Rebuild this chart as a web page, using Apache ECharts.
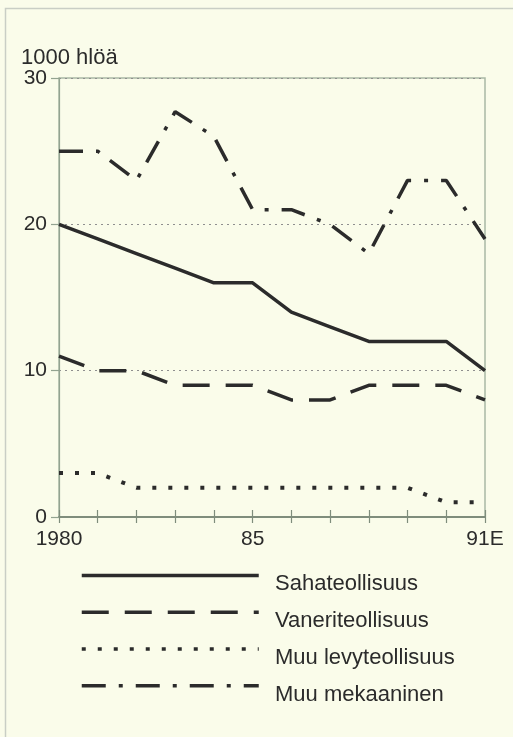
<!DOCTYPE html>
<html>
<head>
<meta charset="utf-8">
<script src="https://cdn.jsdelivr.net/npm/echarts@6/dist/echarts.min.js"></script>
<style>
  html, body { margin: 0; padding: 0; background: #fafcea; }
  #chart { width: 513px; height: 737px; }
</style>
</head>
<body>
<div id="chart"></div>
<script>
// vuodet ja akselin tekstit
var years = ['1980', '1981', '1982', '1983', '1984', '1985', '1986', '1987', '1988', '1989', '1990', '1991'];
var tickLabels = ['1980', '', '', '', '', '85', '', '', '', '', '', '91E'];
var yTicks = [0, 10, 20, 30];

// henkilöstö, 1000 hlöä
var names = ['Sahateollisuus', 'Vaneriteollisuus', 'Muu levyteollisuus', 'Muu mekaaninen'];
var saha = [20, 19, 18, 17, 16, 16, 14, 13, 12, 12, 12, 10];
var vaneri = [11, 10, 10, 9, 9, 9, 8, 8, 9, 9, 9, 8];
var levy = [3, 3, 2, 2, 2, 2, 2, 2, 2, 2, 1, 1];
var mekaan = [25, 25, 23, 27.7, 26, 21, 21, 20, 18, 23, 23, 19];

var font = 'Liberation Sans, Arial, sans-serif';
var ink = '#2b2b2b';

var chart = echarts.init(document.getElementById('chart'));

function line(name, data, type, width) {
	return {
		name: name,
		type: 'line',
		data: data,
		symbol: 'none',
		animation: false,
		lineStyle: {
			color: ink,
			width: width,
			type: type,
			cap: 'butt'
		},
		itemStyle: { color: ink }
	};
}

chart.setOption({
	backgroundColor: '#fafcea',
	textStyle: { fontFamily: font },
	title: {
		text: '1000 hlöä',
		left: 21,
		top: 47,
		padding: 0,
		textStyle: { fontSize: 22, fontWeight: 'normal', color: ink, fontFamily: font }
	},
	graphic: [
		{
			type: 'rect',
			silent: true,
			shape: { x: 5.5, y: 8.5, width: 700, height: 900 },
			style: { fill: 'none', stroke: '#c9cec5', lineWidth: 1.5 }
		}
	],
	legend: [
		{
			// viivat
			orient: 'vertical',
			left: 75,
			top: 565,
			itemWidth: 177,
			itemHeight: 14,
			itemGap: 25.5,
			selectedMode: false,
			itemStyle: { opacity: 0 },
			lineStyle: { width: 3.5 },
			textStyle: { fontSize: 10, lineHeight: 14 },
			formatter: function () { return ''; },
			data: names
		},
		{
			// tekstit
			orient: 'vertical',
			left: 264,
			top: 568,
			icon: 'none',
			itemWidth: 1,
			itemHeight: 2,
			itemGap: 15,
			selectedMode: false,
			textStyle: { fontSize: 22, lineHeight: 22, color: ink, fontFamily: font },
			data: names
		}
	],
	grid: {
		left: 59,
		right: 28,
		top: 78,
		bottom: 220,
		show: true,
		borderColor: '#a9b8a5',
		borderWidth: 1.5
	},
	xAxis: [
		{
			type: 'category',
			data: years,
			boundaryGap: false,
			axisLine: { lineStyle: { color: '#7f8d7c', width: 2 } },
			axisTick: { inside: true, length: 7, interval: 0, lineStyle: { color: '#7f8d7c', width: 1.2 } },
			axisLabel: {
				interval: 0,
				margin: 12,
				fontSize: 21,
				color: ink,
				formatter: function (value, index) {
					return tickLabels[index];
				}
			},
			splitLine: { show: false }
		},
		{
			type: 'category',
			data: years,
			position: 'bottom',
			boundaryGap: false,
			axisLine: { show: false },
			axisTick: { inside: false, length: 6, interval: 0, lineStyle: { color: '#7f8d7c', width: 1.2 } },
			axisLabel: { show: false },
			splitLine: { show: false }
		}
	],
	yAxis: {
		type: 'value',
		min: yTicks[0],
		max: yTicks[yTicks.length - 1],
		interval: 10,
		axisLine: { show: true, lineStyle: { color: '#93a390', width: 1.2 } },
		axisTick: { show: true, length: 8, lineStyle: { color: '#93a390', width: 1.2 } },
		axisLabel: { margin: 12, fontSize: 21, color: ink },
		splitLine: { show: true, lineStyle: { color: '#8f8f8f', type: [2, 4], width: 1 } }
	},
	series: [
		line(names[0], saha, 'solid', 3.5),
		line(names[1], vaneri, [27, 16], 3.5),
		line(names[2], levy, [4, 12], 4),
		line(names[3], mekaan, [24, 13, 4, 13], 3.5)
	]
});
</script>
</body>
</html>
